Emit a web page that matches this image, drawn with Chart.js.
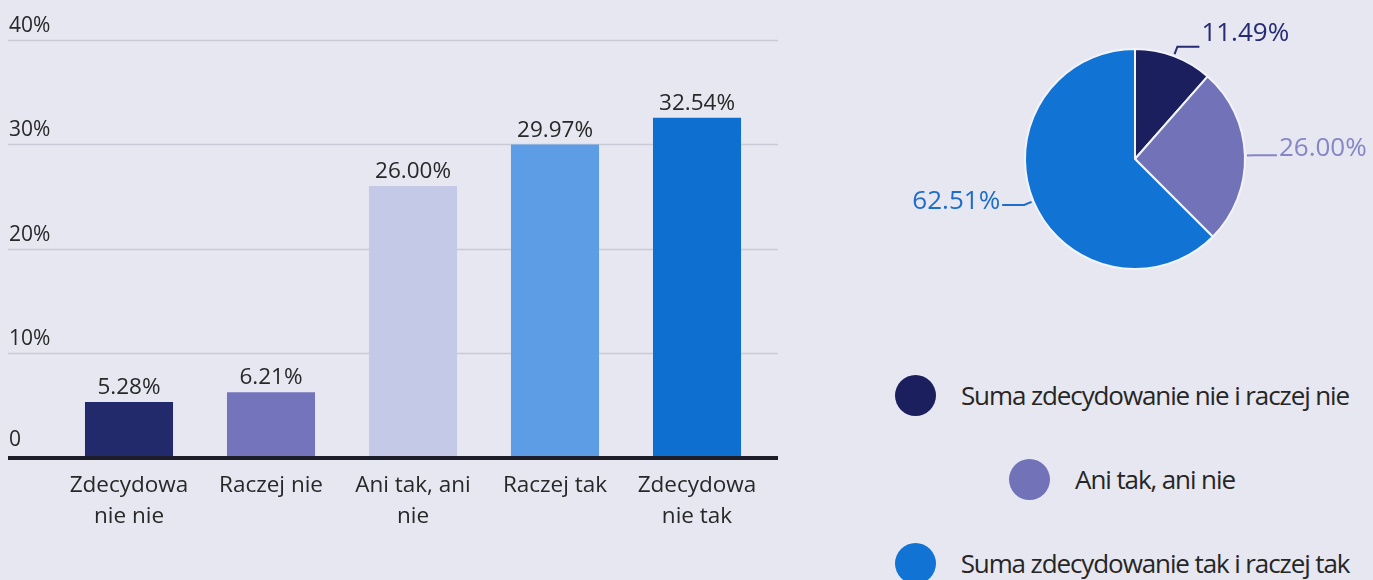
<!DOCTYPE html>
<html>
<head>
<meta charset="utf-8">
<script src="https://cdn.jsdelivr.net/npm/chart.js@4.4.0/dist/chart.umd.min.js"></script>
<style>
  body { margin: 0; background: #e6e7f0; width: 1373px; height: 580px; overflow: hidden; position: relative; font-family: "Open Sans", sans-serif; }
  #barWrap { position: absolute; left: 0; top: 0; width: 790px; height: 580px; }
  #pieWrap { position: absolute; left: 880px; top: 0; width: 493px; height: 300px; }
  #legend { position: absolute; left: 878px; top: 353px; width: 488px; }
  .row { display: flex; align-items: center; justify-content: center; height: 84px; }
  .dot { width: 41px; height: 41px; border-radius: 50%; margin-right: 25px; flex: none; }
  .txt { font-size: 26px; letter-spacing: -1.1px; color: #262626; white-space: nowrap; }
</style>
</head>
<body>
<div id="barWrap"><canvas id="bars"></canvas></div>
<div id="pieWrap"><canvas id="pie"></canvas></div>
<div id="legend"></div>
<script>
// bar chart data
const categories = [["Zdecydowa", "nie nie"], "Raczej nie", ["Ani tak, ani", "nie"], "Raczej tak", ["Zdecydowa", "nie tak"]];
const values = [5.28, 6.21, 26.00, 29.97, 32.54];
const barColors = ["#232a6b", "#7474bd", "#c3c9e6", "#5c9de6", "#0f6fd0"];
const yTicks = [0, 10, 20, 30, 40];
const yTickLabels = ["0", "10%", "20%", "30%", "40%"];

// pie chart data
const pieLabels = ["Suma zdecydowanie nie i raczej nie", "Ani tak, ani nie", "Suma zdecydowanie tak i raczej tak"];
const pieValues = [11.49, 26.00, 62.51];
const pieColors = ["#1c1f5e", "#7272b9", "#1174d4"];
const pieTextColors = ["#262b73", "#8686c6", "#1e6ccc"];

const FONT = '"Open Sans", sans-serif';
const TEXT = '#282828';

function fmt(v) { return v.toFixed(2) + '%'; }

// gridlines, y labels, zero line and value labels for the bar chart
const barDecor = {
  id: 'barDecor',
  beforeDatasetsDraw(chart) {
    const ctx = chart.ctx, y = chart.scales.y;
    ctx.save();
    ctx.strokeStyle = '#c9cad6';
    ctx.lineWidth = 1.5;
    yTicks.forEach(t => {
      if (t === 0) return;
      const py = Math.round(y.getPixelForValue(t)) + 0.5;
      ctx.beginPath(); ctx.moveTo(8, py); ctx.lineTo(778, py); ctx.stroke();
    });
    ctx.restore();
  },
  afterDatasetsDraw(chart) {
    const ctx = chart.ctx, y = chart.scales.y;
    ctx.save();
    // zero line
    const y0 = y.getPixelForValue(0);
    ctx.strokeStyle = '#1d1d29';
    ctx.lineWidth = 4;
    ctx.beginPath(); ctx.moveTo(8, y0 + 1); ctx.lineTo(778, y0 + 1); ctx.stroke();
    // y tick labels sit above the lines
    ctx.fillStyle = TEXT;
    ctx.font = '21px ' + FONT;
    ctx.textAlign = 'left';
    ctx.textBaseline = 'alphabetic';
    yTicks.forEach((t, i) => {
      const py = y.getPixelForValue(t);
      ctx.fillText(yTickLabels[i], 9, py - (t === 0 ? 11 : 8));
    });
    // value labels
    ctx.font = '22.5px ' + FONT;
    ctx.textAlign = 'center';
    chart.getDatasetMeta(0).data.forEach((bar, i) => {
      ctx.fillText(fmt(values[i]), bar.x, bar.y - 8);
    });
    ctx.restore();
  }
};

new Chart(document.getElementById('bars'), {
  type: 'bar',
  data: {
    labels: categories,
    datasets: [{
      data: values,
      backgroundColor: barColors,
      borderWidth: 0,
      barPercentage: 0.62,
      categoryPercentage: 1
    }]
  },
  options: {
    responsive: true,
    maintainAspectRatio: false,
    animation: false,
    layout: { padding: { left: 58, right: 22, top: 40, bottom: 0 } },
    plugins: { legend: { display: false }, tooltip: { enabled: false } },
    scales: {
      x: {
        grid: { display: false, drawTicks: false },
        border: { display: false },
        ticks: { color: TEXT, padding: 13, font: { family: FONT, size: 22.5, lineHeight: '31px' } },
        afterFit(scale) { scale.height = 123; }
      },
      y: { display: false, min: 0, max: 40 }
    }
  },
  plugins: [barDecor]
});

// outside labels with leader lines for the pie
const pieCallouts = {
  id: 'pieCallouts',
  afterDatasetsDraw(chart) {
    const ctx = chart.ctx;
    ctx.save();
    ctx.font = '26px ' + FONT;
    ctx.lineWidth = 2;
    ctx.textBaseline = 'middle';
    chart.getDatasetMeta(0).data.forEach((arc, i) => {
      const p = arc.getProps(['x', 'y', 'outerRadius', 'startAngle', 'endAngle'], true);
      const a = (p.startAngle + p.endAngle) / 2;
      const c = Math.cos(a), s = Math.sin(a);
      const x0 = p.x + c * (p.outerRadius + 2), y0 = p.y + s * (p.outerRadius + 2);
      const x1 = p.x + c * (p.outerRadius + 10), y1 = p.y + s * (p.outerRadius + 10);
      const dir = c >= 0 ? 1 : -1;
      const x2 = x1 + dir * 22;
      ctx.strokeStyle = pieTextColors[i];
      ctx.beginPath(); ctx.moveTo(x0, y0); ctx.lineTo(x1, y1); ctx.lineTo(x2, y1); ctx.stroke();
      ctx.fillStyle = pieTextColors[i];
      ctx.textAlign = dir > 0 ? 'left' : 'right';
      ctx.fillText(fmt(pieValues[i]), x2 + dir * 2, y1 - 6 + 8 * s);
    });
    ctx.restore();
  }
};

new Chart(document.getElementById('pie'), {
  type: 'pie',
  data: {
    labels: pieLabels,
    datasets: [{
      data: pieValues,
      backgroundColor: pieColors,
      borderColor: '#f2f4fa',
      borderWidth: 2
    }]
  },
  options: {
    responsive: true,
    maintainAspectRatio: false,
    animation: false,
    layout: { padding: { left: 144, right: 127, top: 48, bottom: 30 } },
    plugins: { legend: { display: false }, tooltip: { enabled: false } }
  },
  plugins: [pieCallouts]
});

// legend, one item per row, centered
const legend = document.getElementById('legend');
pieLabels.forEach((lbl, i) => {
  const row = document.createElement('div');
  row.className = 'row';
  row.innerHTML = '<span class="dot" style="background:' + pieColors[i] + '"></span><span class="txt">' + lbl + '</span>';
  legend.appendChild(row);
});
</script>
</body>
</html>
